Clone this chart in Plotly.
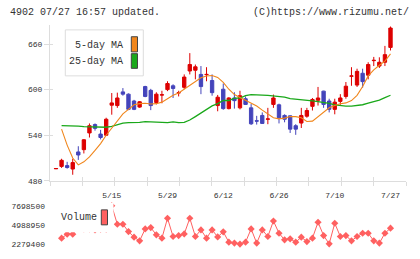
import plotly.graph_objects as go

# ---------------- data ----------------
x_labels = ["5/15", "5/29", "6/12", "6/26", "7/10", "7/27"]
label_pos = [10, 20, 30, 40, 50, 60]
price_ticks = [480, 540, 600, 660]

opens = [495.8, 499, 500, 495.5, 518, 521, 543, 554, 541.5, 540,
         579.5, 579, 597, 594, 585, 577, 604, 599, 583, 592.8,
         600, 605, 595.6, 603, 624.5, 625.5, 620, 619.6, 612, 579,
         600.5, 575, 589, 576, 588, 576, 559, 566, 561, 580.5,
         580, 566, 565.5, 552.5, 556, 565, 578, 586, 598, 585,
         574, 584.5, 591, 617.6, 606, 621.5, 619, 638.1, 631, 636,
         655.5]
highs = [496.5, 509, 505, 509, 525.5, 535, 555.5, 555.5, 547, 563,
         595.5, 596, 602, 595, 586.5, 585, 605, 601, 596.5, 598.5,
         611, 607, 598.5, 620, 648, 633, 631, 629.5, 620, 593,
         608, 590, 596.5, 598.5, 591, 581, 565.5, 570, 576, 593.5,
         581.5, 567.5, 566, 554.5, 576, 576, 589, 603.5, 598.5, 588,
         588, 594, 610, 629.5, 627.5, 627.5, 636, 643, 642.5, 657.5,
         683]
lows = [495.5, 497, 496, 488, 507.5, 516, 537, 546, 534.5, 539,
        567, 576, 592, 573, 573, 576, 590, 573, 580.5, 582,
        598, 589, 591, 600.5, 620, 613.5, 594, 611, 592, 571.5,
        573.5, 574, 575, 574, 580, 553.5, 554, 555, 554.5, 576,
        555.5, 557, 543, 540.5, 549.5, 563, 572.5, 579, 576, 570,
        567.5, 580, 588, 605, 603.5, 602.5, 613.5, 631, 628.5, 631,
        651.5]
closes = [496.2, 507, 497.5, 504, 514, 534, 552.5, 549, 537, 561,
          582.5, 589, 594, 574, 574, 584, 591, 579, 594, 593.2,
          608, 601.5, 596, 616.5, 633, 630, 604, 620, 596, 590,
          575, 589, 585.5, 592, 580.5, 555, 558.6, 555.5, 561.4, 589,
          563, 561, 548, 548, 566, 572.5, 587, 589, 580.5, 574,
          583.5, 589, 604.5, 618, 624, 610.5, 633, 638.5, 636, 646,
          681]
ma5 = [None, 548, 527, 510, 501, 505, 511.5, 520, 529, 540,
       549.5, 558.5, 568, 574, 580, 581.5, 582, 581, 581.5, 583.5,
       588, 592.5, 595.5, 600.5, 606, 611.5, 615.5, 618, 618.5, 616,
       609.5, 600.5, 593.5, 589.5, 586, 583, 578.5, 573, 568, 563,
       561.5, 562.5, 564.5, 564.5, 563, 558, 558.5, 564, 570.5, 576,
       579, 581.5, 582.5, 585.5, 592.5, 604, 618, 626, 632, 637.5,
       647]
ma25 = [None, 552.7, 552.7, 552.5, 552, 551.4, 551, 550.5, 550.5, 550.5,
        551.5, 554, 556, 556.5, 556.5, 557, 557.8, 557.5, 557.5, 556.5,
        556.5, 557.5, 556.5, 557, 560, 564.5, 569.5, 574, 578.5, 581.5,
        585.7, 585.7, 588.8, 588.8, 592, 593.4, 593.4, 592.8, 592.3, 591.8,
        591.2, 590, 588, 587.5, 586.5, 585.7, 585.3, 584.3, 583.5, 581.8,
        580, 578.8, 578.4, 578.4, 579.3, 580.1, 582.3, 583.8, 586.3, 589.5,
        592.6]
volume = [None, 3120000, 3680000, 3680000, 4700000, 4430000, 4430000, 4300000, 4400000, 4400000,
          7698500, 5090000, 5090000, 4050000, 3260000, 2740000, 4430000, 4610000, 3590000, 3120000,
          5930000, 3350000, 3490000, 3720000, 5930000, 3350000, 4290000, 3120000, 4290000, 3300000,
          4010000, 2560000, 2420000, 2279400, 2560000, 4430000, 2420000, 4290000, 3350000, 5550000,
          3820000, 2880000, 3020000, 2560000, 3260000, 2640000, 3120000, 5370000, 3490000, 2320000,
          5230000, 3350000, 3490000, 2740000, 3350000, 3820000, 3820000, 2740000, 2420000, 3820000,
          4530000]

idx = list(range(len(closes)))
vmin = min(v for v in volume if v is not None)
vmax = max(v for v in volume if v is not None)
vmid = (vmin + vmax) / 2

# ---------------- geometry helpers ----------------
W, H = 420, 259
ML, MR, MT, MB = 50, 14, 25, 5
PW, PH = W - ML - MR, H - MT - MB


def px(x):
    return (x - ML) / PW


def py(y):
    return (H - MB - y) / PH


FONT = "Liberation Mono, DejaVu Sans Mono, monospace"
TXT = "#333333"
AX = "#dddddd"
RED = "#dd0000"
BLUE = "#4444bb"
ORANGE = "#f0861c"
GREEN = "#1aa81a"
VOLC = "#ff6060"

fig = go.Figure()

fig.add_trace(go.Candlestick(
    x=idx, open=opens, high=highs, low=lows, close=closes,
    increasing=dict(line=dict(color=RED, width=1), fillcolor=RED),
    decreasing=dict(line=dict(color=BLUE, width=1), fillcolor=BLUE),
    whiskerwidth=0, showlegend=False, xaxis="x", yaxis="y"))
fig.add_trace(go.Scatter(x=idx, y=ma25, mode="lines", line=dict(color=GREEN, width=1.3),
                         showlegend=False, xaxis="x", yaxis="y"))
fig.add_trace(go.Scatter(x=idx, y=ma5, mode="lines", line=dict(color=ORANGE, width=1.1),
                         showlegend=False, xaxis="x", yaxis="y"))
fig.add_trace(go.Scatter(x=idx, y=volume, mode="lines+markers",
                         line=dict(color=VOLC, width=1),
                         marker=dict(symbol="diamond", size=5.5, color=VOLC),
                         cliponaxis=False, connectgaps=False,
                         showlegend=False, xaxis="x2", yaxis="y2"))
# dummy traces so the overlay tick axes get drawn
for xa, ya in [("x3", "y"), ("x4", "y"), ("x", "y3")]:
    fig.add_trace(go.Scatter(x=[None], y=[None], xaxis=xa, yaxis=ya,
                             showlegend=False, hoverinfo="skip"))

xr = [-1.076, 62.78]
fig.update_layout(
    width=W, height=H, margin=dict(l=ML, r=MR, t=MT, b=MB),
    paper_bgcolor="white", plot_bgcolor="white",
    font=dict(family=FONT, size=8, color=TXT),
    boxgap=0.14,
    xaxis=dict(domain=[0, 1], range=xr, anchor="y", tickmode="array",
               tickvals=label_pos, ticktext=x_labels, ticks="",
               showline=True, linecolor=AX, linewidth=1, showgrid=False,
               zeroline=False, rangeslider=dict(visible=False),
               tickfont=dict(size=8, family=FONT, color=TXT), ticklabelstandoff=7),
    xaxis3=dict(overlaying="x", anchor="y", range=[0, 11], tick0=0, dtick=1,
                ticks="outside", ticklen=4, tickcolor=AX, showticklabels=False,
                showline=False, showgrid=False, zeroline=False),
    xaxis4=dict(overlaying="x", anchor="y", range=[0, 11], tick0=0, dtick=1,
                ticks="inside", ticklen=4, tickcolor=AX, showticklabels=False,
                showline=False, showgrid=False, zeroline=False),
    yaxis=dict(domain=[py(184.3), 1], range=[480, 685], anchor="x",
               tickmode="array", tickvals=price_ticks, ticks="outside", ticklen=5,
               tickcolor=AX, showline=True, linecolor=AX, linewidth=1,
               showgrid=False, zeroline=False,
               tickfont=dict(size=8, family=FONT, color=TXT)),
    yaxis3=dict(overlaying="y", anchor="x", range=[480, 685], tickmode="array",
                tickvals=price_ticks, ticks="inside", ticklen=3, tickcolor=AX,
                showticklabels=False, showline=False, showgrid=False, zeroline=False),
    xaxis2=dict(domain=[0, 1], range=xr, anchor="y2", visible=False),
    yaxis2=dict(domain=[py(249), py(209.8)], range=[vmin, vmax], anchor="x2",
                tickmode="array", tickvals=[vmin, vmid, vmax],
                ticktext=[str(int(vmin)), str(int(vmid)), str(int(vmax))],
                ticks="", showline=False, showgrid=False, zeroline=False,
                ticklabelstandoff=4,
                tickfont=dict(size=8, family=FONT, color=TXT)),
)

shapes = [
    # price legend box
    dict(type="rect", xref="paper", yref="paper", x0=px(65.3), x1=px(143.3),
         y0=py(77), y1=py(30), fillcolor="white", line=dict(color=AX, width=1), layer="above"),
    dict(type="rect", xref="paper", yref="paper", x0=px(131.3), x1=px(137.5),
         y0=py(52.5), y1=py(37), fillcolor=ORANGE, line=dict(color="#444444", width=1), layer="above"),
    dict(type="rect", xref="paper", yref="paper", x0=px(131.3), x1=px(137.5),
         y0=py(69.3), y1=py(54.3), fillcolor=GREEN, line=dict(color="#444444", width=1), layer="above"),
    # volume legend box
    dict(type="rect", xref="paper", yref="paper", x0=px(57), x1=px(113.5),
         y0=py(237), y1=py(207), fillcolor="white", line=dict(width=0), layer="above"),
    dict(type="rect", xref="paper", yref="paper", x0=px(101.3), x1=px(107.5),
         y0=py(229.3), y1=py(214), fillcolor=VOLC, line=dict(color="#444444", width=1), layer="above"),
]

annotations = [
    dict(text="4902 07/27 16:57 updated.", xref="paper", yref="paper", x=px(8), y=py(12.5),
         xanchor="left", yanchor="middle", showarrow=False, font=dict(size=10, family=FONT, color=TXT)),
    dict(text="(C)https://www.rizumu.net/", xref="paper", yref="paper", x=px(410.5), y=py(12.5),
         xanchor="right", yanchor="middle", showarrow=False, font=dict(size=10, family=FONT, color=TXT)),
    dict(text="5-day MA", xref="paper", yref="paper", x=px(125), y=py(45.5),
         xanchor="right", yanchor="middle", showarrow=False, font=dict(size=10, family=FONT, color=TXT)),
    dict(text="25-day MA", xref="paper", yref="paper", x=px(125), y=py(62),
         xanchor="right", yanchor="middle", showarrow=False, font=dict(size=10, family=FONT, color=TXT)),
    dict(text="Volume", xref="paper", yref="paper", x=px(58.5), y=py(221.5),
         xanchor="left", yanchor="middle", showarrow=False, font=dict(size=10, family=FONT, color=TXT)),
]
fig.update_layout(shapes=shapes, annotations=annotations)

fig.write_html("out.html")
